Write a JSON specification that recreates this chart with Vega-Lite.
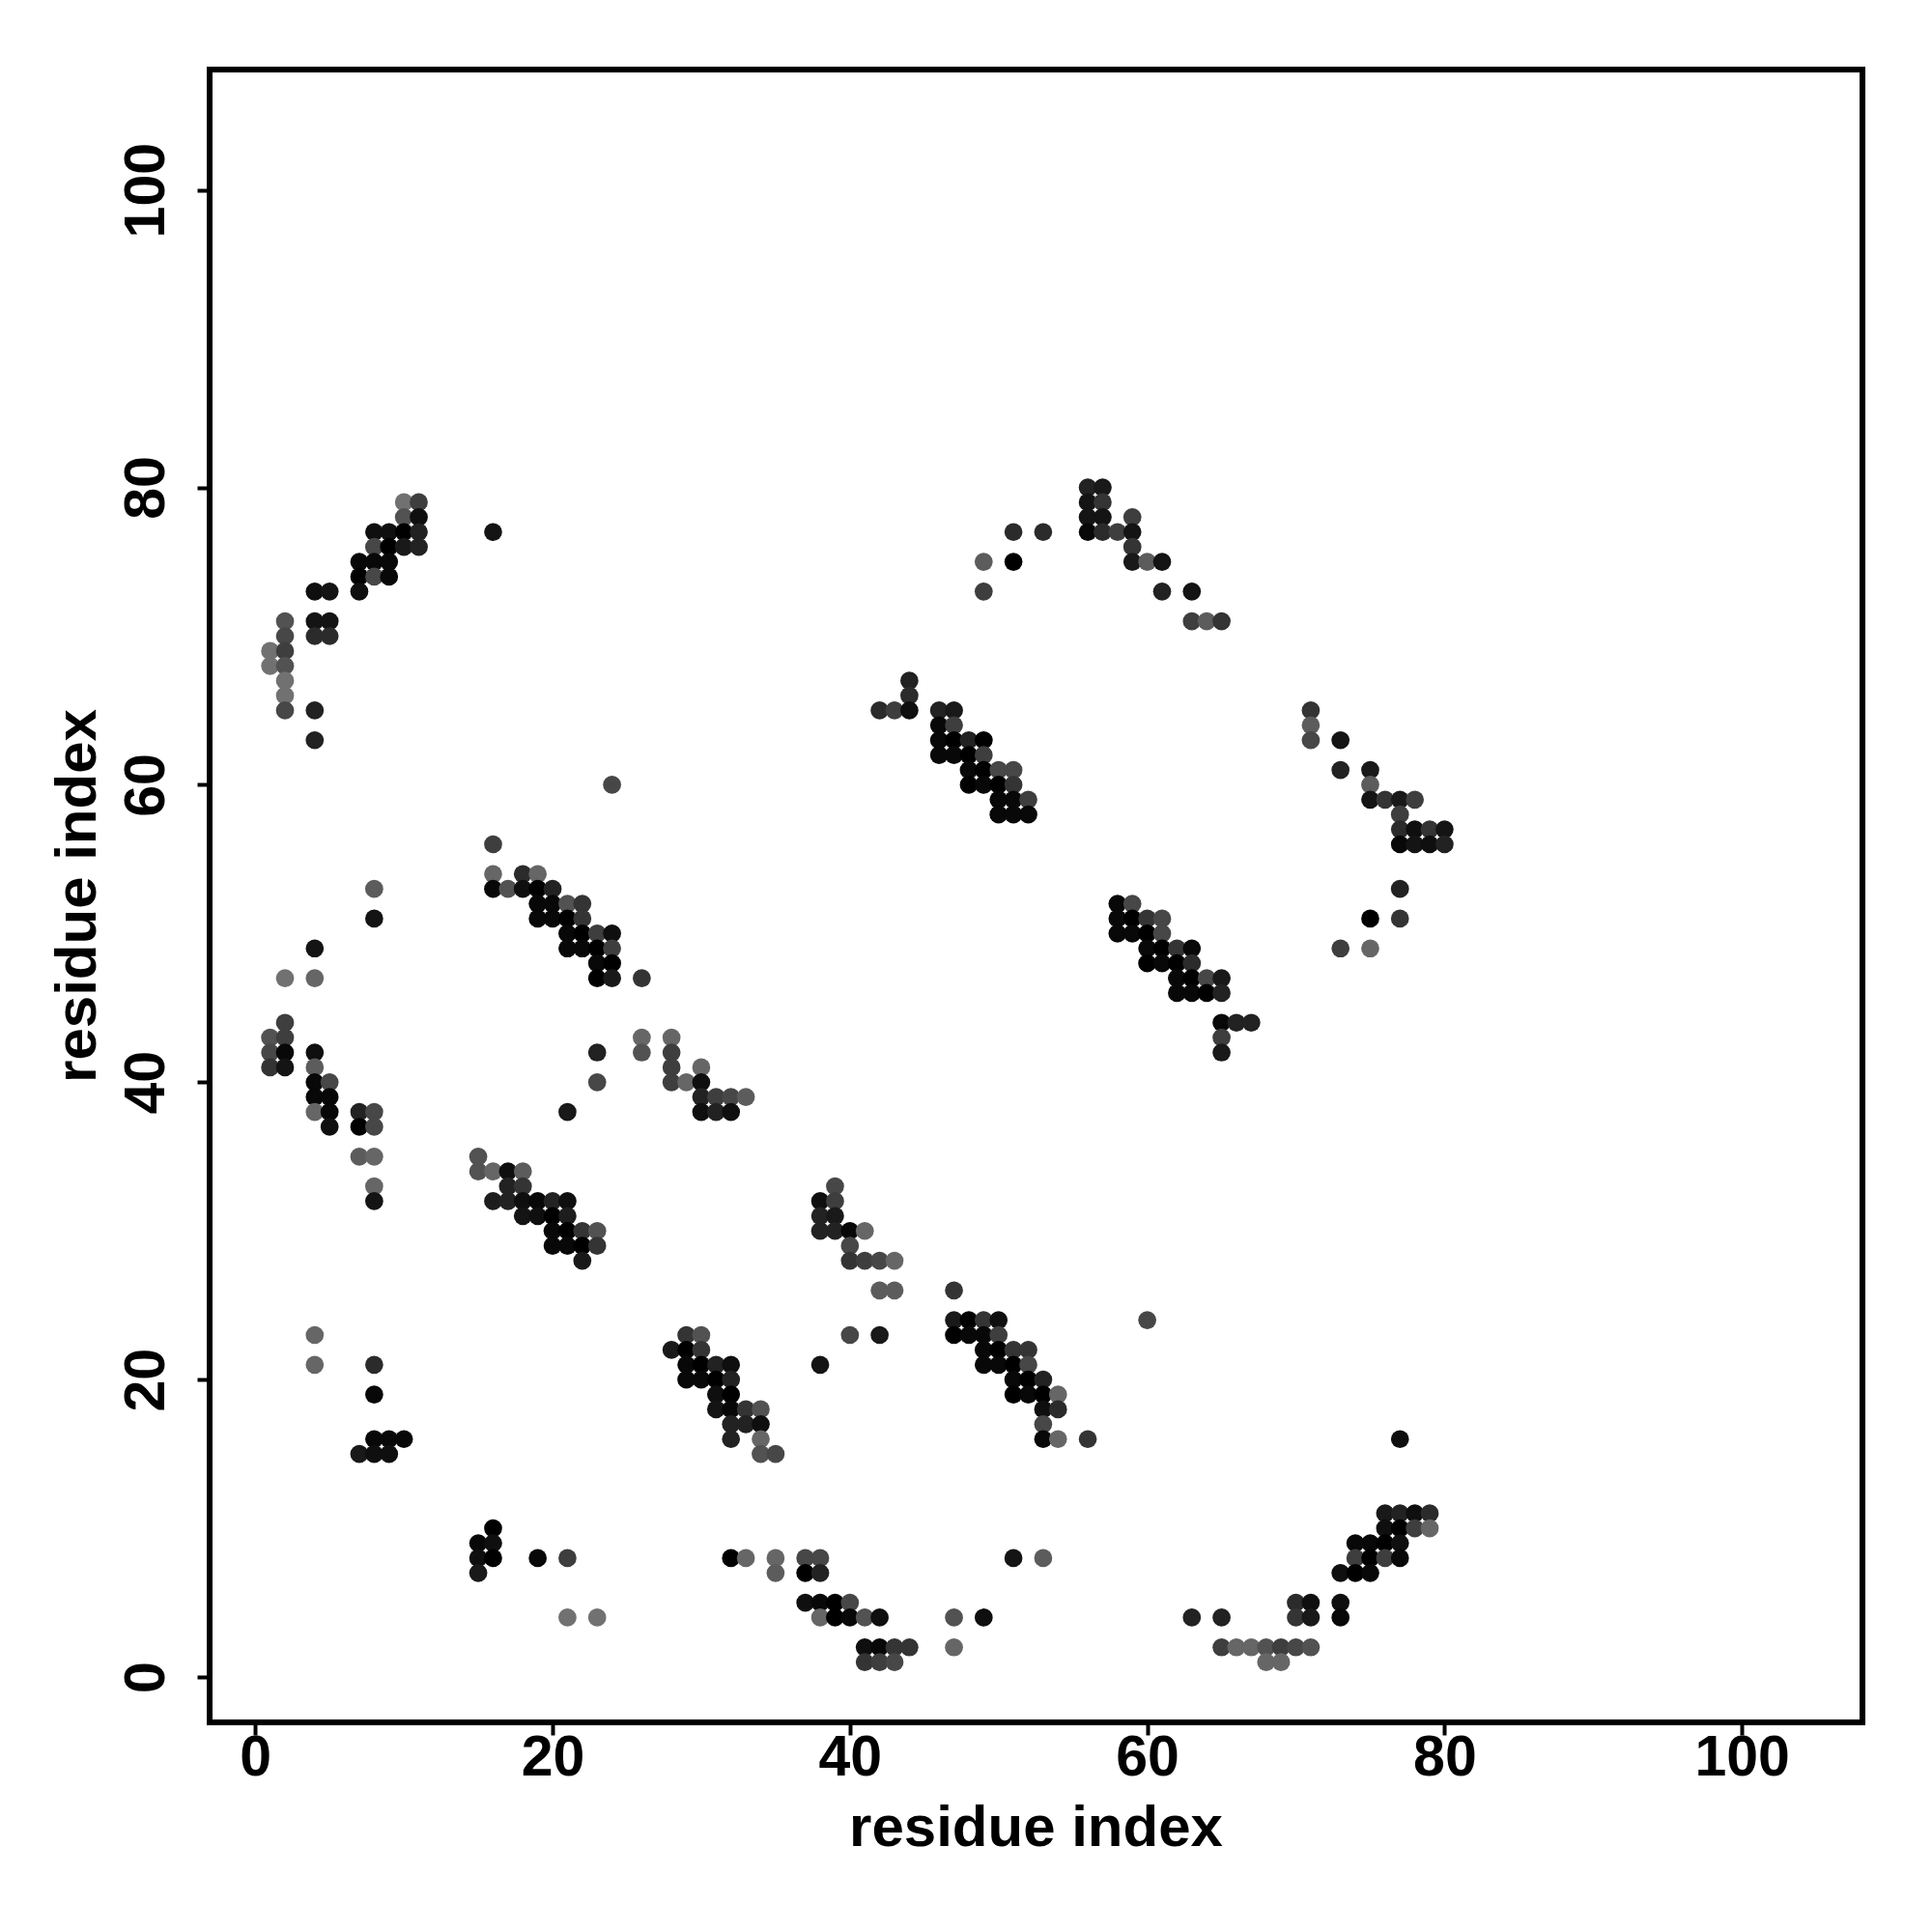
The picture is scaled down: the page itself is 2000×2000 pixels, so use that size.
{"$schema":"https://vega.github.io/schema/vega-lite/v6.json","autosize":{"type":"none"},"padding":{"left":217,"top":72,"right":72,"bottom":217},"width":1711,"height":1711,"background":"white","config":{"view":{"stroke":"#000000","strokeWidth":6}},"data":{"values":[
{"i":10,"j":79,"s":11},{"i":11,"j":79,"s":6},{"i":10,"j":78,"s":8},{"i":11,"j":78,"s":1},{"i":8,"j":77,"s":1},{"i":9,"j":77,"s":1},{"i":10,"j":77,"s":0},{"i":11,"j":77,"s":3},{"i":16,"j":77,"s":1.5},{"i":8,"j":76,"s":7},{"i":9,"j":76,"s":0},{"i":10,"j":76,"s":2},{"i":11,"j":76,"s":3},{"i":7,"j":75,"s":0.5},{"i":8,"j":75,"s":0.5},{"i":9,"j":75,"s":0.5},{"i":7,"j":74,"s":0},{"i":8,"j":74,"s":7},{"i":9,"j":74,"s":0.5},{"i":4,"j":73,"s":1},{"i":5,"j":73,"s":1.5},{"i":7,"j":73,"s":1},{"i":2,"j":71,"s":8},{"i":4,"j":71,"s":1.5},{"i":5,"j":71,"s":1.5},{"i":2,"j":70,"s":7},{"i":4,"j":70,"s":4},{"i":5,"j":70,"s":4},{"i":1,"j":69,"s":11},{"i":2,"j":69,"s":6},{"i":1,"j":68,"s":11},{"i":2,"j":68,"s":8},{"i":2,"j":67,"s":11},{"i":2,"j":66,"s":11},{"i":2,"j":65,"s":7},{"i":4,"j":65,"s":3},{"i":4,"j":63,"s":3},
{"i":8,"j":53,"s":9},{"i":8,"j":51,"s":1.5},{"i":4,"j":49,"s":1.5},{"i":2,"j":47,"s":11},{"i":4,"j":47,"s":10},{"i":2,"j":44,"s":6},{"i":1,"j":43,"s":8},{"i":2,"j":43,"s":6},{"i":1,"j":42,"s":7},{"i":2,"j":42,"s":0.5},{"i":1,"j":41,"s":5},{"i":2,"j":41,"s":1.5},{"i":4,"j":42,"s":1},{"i":4,"j":41,"s":9},{"i":4,"j":40,"s":0.5},{"i":5,"j":40,"s":7},{"i":4,"j":39,"s":0.5},{"i":5,"j":39,"s":0.5},{"i":4,"j":38,"s":10},{"i":5,"j":38,"s":0.5},{"i":5,"j":37,"s":1},{"i":7,"j":38,"s":3},{"i":8,"j":38,"s":7},{"i":7,"j":37,"s":0},{"i":8,"j":37,"s":7},{"i":7,"j":35,"s":9},{"i":8,"j":35,"s":10},{"i":8,"j":33,"s":10},{"i":8,"j":32,"s":1.5},
{"i":16,"j":56,"s":6},{"i":16,"j":54,"s":10},{"i":18,"j":54,"s":4},{"i":19,"j":54,"s":10},{"i":16,"j":53,"s":0.5},{"i":17,"j":53,"s":8},{"i":18,"j":53,"s":1},{"i":19,"j":53,"s":0},{"i":20,"j":53,"s":3},{"i":19,"j":52,"s":0.5},{"i":20,"j":52,"s":0.5},{"i":21,"j":52,"s":8},{"i":22,"j":52,"s":5},{"i":19,"j":51,"s":0.5},{"i":20,"j":51,"s":0.5},{"i":21,"j":51,"s":0},{"i":22,"j":51,"s":5},{"i":21,"j":50,"s":0.5},{"i":22,"j":50,"s":0},{"i":23,"j":50,"s":6},{"i":24,"j":50,"s":1},{"i":21,"j":49,"s":0.5},{"i":22,"j":49,"s":0.5},{"i":23,"j":49,"s":0},{"i":24,"j":49,"s":6},{"i":23,"j":48,"s":0.5},{"i":24,"j":48,"s":0},{"i":23,"j":47,"s":0},{"i":24,"j":47,"s":2},{"i":26,"j":47,"s":5},{"i":26,"j":43,"s":10},{"i":28,"j":43,"s":10},{"i":23,"j":42,"s":3},{"i":26,"j":42,"s":8},{"i":28,"j":42,"s":6},{"i":28,"j":41,"s":6},{"i":30,"j":41,"s":10},{"i":23,"j":40,"s":7},{"i":28,"j":40,"s":6},{"i":29,"j":40,"s":10},{"i":30,"j":40,"s":1},{"i":30,"j":39,"s":3},{"i":31,"j":39,"s":6},{"i":32,"j":39,"s":7},{"i":33,"j":39,"s":9},{"i":21,"j":38,"s":2},{"i":30,"j":38,"s":1},{"i":31,"j":38,"s":3},{"i":32,"j":38,"s":1},{"i":24,"j":60,"s":7},
{"i":15,"j":35,"s":8},{"i":15,"j":34,"s":8},{"i":16,"j":34,"s":10},{"i":17,"j":34,"s":1},{"i":18,"j":34,"s":9},{"i":17,"j":33,"s":3},{"i":18,"j":33,"s":5},{"i":16,"j":32,"s":2.5},{"i":17,"j":32,"s":3},{"i":18,"j":32,"s":1},{"i":19,"j":32,"s":0.5},{"i":20,"j":32,"s":3},{"i":21,"j":32,"s":1},{"i":18,"j":31,"s":1.5},{"i":19,"j":31,"s":1},{"i":20,"j":31,"s":0},{"i":21,"j":31,"s":2.5},{"i":20,"j":30,"s":0.5},{"i":21,"j":30,"s":0},{"i":22,"j":30,"s":5},{"i":23,"j":30,"s":8},{"i":20,"j":29,"s":0.5},{"i":21,"j":29,"s":0.5},{"i":22,"j":29,"s":0},{"i":23,"j":29,"s":5},{"i":22,"j":28,"s":2},
{"i":29,"j":23,"s":5},{"i":30,"j":23,"s":8},{"i":28,"j":22,"s":2},{"i":29,"j":22,"s":0},{"i":30,"j":22,"s":5},{"i":29,"j":21,"s":0.5},{"i":30,"j":21,"s":0},{"i":31,"j":21,"s":3},{"i":32,"j":21,"s":1},{"i":29,"j":20,"s":0.5},{"i":30,"j":20,"s":0.5},{"i":31,"j":20,"s":0},{"i":32,"j":20,"s":3},{"i":31,"j":19,"s":1},{"i":32,"j":19,"s":0},{"i":31,"j":18,"s":1.5},{"i":32,"j":18,"s":0.5},{"i":33,"j":18,"s":5},{"i":34,"j":18,"s":8},{"i":32,"j":17,"s":3},{"i":33,"j":17,"s":3},{"i":34,"j":17,"s":1},{"i":32,"j":16,"s":3},{"i":34,"j":16,"s":10},{"i":34,"j":15,"s":8},{"i":35,"j":15,"s":7},{"i":40,"j":23,"s":7},{"i":42,"j":23,"s":2},{"i":38,"j":21,"s":1.5},
{"i":47,"j":26,"s":5},{"i":47,"j":24,"s":2},{"i":48,"j":24,"s":0},{"i":49,"j":24,"s":5},{"i":50,"j":24,"s":1},{"i":47,"j":23,"s":0},{"i":48,"j":23,"s":0.5},{"i":49,"j":23,"s":0.5},{"i":50,"j":23,"s":6},{"i":49,"j":22,"s":0.5},{"i":50,"j":22,"s":0},{"i":51,"j":22,"s":5},{"i":52,"j":22,"s":5},{"i":49,"j":21,"s":0.5},{"i":50,"j":21,"s":0.5},{"i":51,"j":21,"s":0},{"i":52,"j":21,"s":7},{"i":51,"j":20,"s":0.5},{"i":52,"j":20,"s":0},{"i":53,"j":20,"s":3},{"i":51,"j":19,"s":0},{"i":52,"j":19,"s":0.5},{"i":53,"j":19,"s":0},{"i":54,"j":19,"s":10},{"i":53,"j":18,"s":1},{"i":54,"j":18,"s":4},{"i":53,"j":17,"s":7},{"i":53,"j":16,"s":0.5},{"i":54,"j":16,"s":10},{"i":56,"j":16,"s":5},{"i":60,"j":24,"s":7},
{"i":44,"j":67,"s":3},{"i":44,"j":66,"s":4},{"i":42,"j":65,"s":4},{"i":43,"j":65,"s":6},{"i":44,"j":65,"s":1},{"i":46,"j":65,"s":3},{"i":47,"j":65,"s":2},{"i":46,"j":64,"s":0.5},{"i":47,"j":64,"s":6},{"i":46,"j":63,"s":0.5},{"i":47,"j":63,"s":0},{"i":48,"j":63,"s":3},{"i":49,"j":63,"s":0},{"i":46,"j":62,"s":0.5},{"i":47,"j":62,"s":0.5},{"i":48,"j":62,"s":0},{"i":49,"j":62,"s":6},{"i":48,"j":61,"s":0.5},{"i":49,"j":61,"s":0},{"i":50,"j":61,"s":7},{"i":51,"j":61,"s":7},{"i":48,"j":60,"s":0},{"i":49,"j":60,"s":0.5},{"i":50,"j":60,"s":0},{"i":51,"j":60,"s":5},{"i":50,"j":59,"s":0.5},{"i":51,"j":59,"s":0.5},{"i":52,"j":59,"s":6},{"i":50,"j":58,"s":0.5},{"i":51,"j":58,"s":0.5},{"i":52,"j":58,"s":0.5},
{"i":58,"j":52,"s":0.5},{"i":59,"j":52,"s":7},{"i":58,"j":51,"s":0.5},{"i":59,"j":51,"s":0},{"i":60,"j":51,"s":5},{"i":61,"j":51,"s":7},{"i":58,"j":50,"s":0.5},{"i":59,"j":50,"s":0.5},{"i":60,"j":50,"s":0},{"i":61,"j":50,"s":7},{"i":60,"j":49,"s":0.5},{"i":61,"j":49,"s":0},{"i":62,"j":49,"s":5},{"i":63,"j":49,"s":0.5},{"i":60,"j":48,"s":0},{"i":61,"j":48,"s":0.5},{"i":62,"j":48,"s":0},{"i":63,"j":48,"s":4},{"i":62,"j":47,"s":0.5},{"i":63,"j":47,"s":0},{"i":64,"j":47,"s":7},{"i":65,"j":47,"s":2},{"i":62,"j":46,"s":0.5},{"i":63,"j":46,"s":0.5},{"i":64,"j":46,"s":0},{"i":65,"j":46,"s":3},{"i":65,"j":44,"s":0.5},{"i":66,"j":44,"s":3},{"i":67,"j":44,"s":3},{"i":65,"j":43,"s":6},{"i":65,"j":42,"s":2},
{"i":71,"j":65,"s":5},{"i":71,"j":64,"s":9},{"i":71,"j":63,"s":7},{"i":73,"j":63,"s":1.5},{"i":73,"j":61,"s":3},{"i":75,"j":61,"s":2},{"i":75,"j":60,"s":9},{"i":75,"j":59,"s":1.5},{"i":76,"j":59,"s":5},{"i":77,"j":59,"s":2},{"i":78,"j":59,"s":6},{"i":77,"j":58,"s":6},{"i":77,"j":57,"s":4},{"i":78,"j":57,"s":1},{"i":79,"j":57,"s":5},{"i":80,"j":57,"s":1.5},{"i":77,"j":56,"s":0.5},{"i":78,"j":56,"s":1.5},{"i":79,"j":56,"s":1},{"i":80,"j":56,"s":3},{"i":77,"j":53,"s":3},{"i":75,"j":51,"s":0},{"i":77,"j":51,"s":5},{"i":73,"j":49,"s":6},{"i":75,"j":49,"s":10},
{"i":16,"j":10,"s":0},{"i":15,"j":9,"s":0.5},{"i":16,"j":9,"s":1},{"i":15,"j":8,"s":1},{"i":16,"j":8,"s":0},{"i":19,"j":8,"s":0.5},{"i":21,"j":8,"s":6},{"i":32,"j":8,"s":0},{"i":33,"j":8,"s":10},{"i":35,"j":8,"s":10},{"i":37,"j":8,"s":7},{"i":38,"j":8,"s":7},{"i":15,"j":7,"s":2},{"i":35,"j":7,"s":9},{"i":37,"j":7,"s":0},{"i":38,"j":7,"s":3},{"i":37,"j":5,"s":1},{"i":38,"j":5,"s":0.5},{"i":39,"j":5,"s":0},{"i":40,"j":5,"s":7},{"i":21,"j":4,"s":11},{"i":23,"j":4,"s":11},{"i":38,"j":4,"s":10},{"i":39,"j":4,"s":0},{"i":40,"j":4,"s":0.5},{"i":41,"j":4,"s":8},{"i":42,"j":4,"s":1},{"i":41,"j":2,"s":1},{"i":42,"j":2,"s":0.5},{"i":43,"j":2,"s":5},{"i":44,"j":2,"s":5},{"i":41,"j":1,"s":5},{"i":42,"j":1,"s":6},{"i":43,"j":1,"s":7},{"i":47,"j":4,"s":8},{"i":47,"j":2,"s":10},{"i":49,"j":4,"s":1},
{"i":76,"j":11,"s":2},{"i":77,"j":11,"s":3},{"i":78,"j":11,"s":1},{"i":79,"j":11,"s":4},{"i":76,"j":10,"s":1},{"i":77,"j":10,"s":0},{"i":78,"j":10,"s":6},{"i":79,"j":10,"s":10},{"i":74,"j":9,"s":0.5},{"i":75,"j":9,"s":0.5},{"i":76,"j":9,"s":0},{"i":77,"j":9,"s":1},{"i":51,"j":8,"s":1.5},{"i":53,"j":8,"s":9},{"i":74,"j":8,"s":6},{"i":75,"j":8,"s":0},{"i":76,"j":8,"s":6},{"i":77,"j":8,"s":0.5},{"i":73,"j":7,"s":1},{"i":74,"j":7,"s":0},{"i":75,"j":7,"s":0.5},{"i":70,"j":5,"s":4},{"i":71,"j":5,"s":1},{"i":73,"j":5,"s":1},{"i":63,"j":4,"s":3},{"i":65,"j":4,"s":3},{"i":70,"j":4,"s":5},{"i":71,"j":4,"s":2},{"i":73,"j":4,"s":0.5},{"i":65,"j":2,"s":6},{"i":66,"j":2,"s":10},{"i":67,"j":2,"s":10},{"i":68,"j":2,"s":8},{"i":69,"j":2,"s":6},{"i":70,"j":2,"s":7},{"i":71,"j":2,"s":8},{"i":68,"j":1,"s":10},{"i":69,"j":1,"s":10},
{"i":56,"j":80,"s":3},{"i":57,"j":80,"s":2},{"i":56,"j":79,"s":1.5},{"i":57,"j":79,"s":5},{"i":56,"j":78,"s":1.5},{"i":57,"j":78,"s":1.5},{"i":59,"j":78,"s":6},{"i":51,"j":77,"s":4},{"i":53,"j":77,"s":4},{"i":56,"j":77,"s":0.5},{"i":57,"j":77,"s":4},{"i":58,"j":77,"s":6},{"i":59,"j":77,"s":1.5},{"i":59,"j":76,"s":5},{"i":49,"j":75,"s":9},{"i":51,"j":75,"s":0},{"i":59,"j":75,"s":2},{"i":60,"j":75,"s":9},{"i":61,"j":75,"s":1.5},{"i":49,"j":73,"s":6},{"i":61,"j":73,"s":3},{"i":63,"j":73,"s":1.5},{"i":63,"j":71,"s":6},{"i":64,"j":71,"s":9},{"i":65,"j":71,"s":5},
{"i":77,"j":16,"s":1},{"i":4,"j":23,"s":10},{"i":4,"j":21,"s":10},{"i":8,"j":21,"s":4},{"i":8,"j":19,"s":0.5},{"i":8,"j":16,"s":0.5},{"i":9,"j":16,"s":0.5},{"i":10,"j":16,"s":0.5},{"i":7,"j":15,"s":2},{"i":8,"j":15,"s":1},{"i":9,"j":15,"s":1},
{"i":39,"j":33,"s":7},{"i":38,"j":32,"s":1},{"i":39,"j":32,"s":6},{"i":38,"j":31,"s":3},{"i":39,"j":31,"s":2},{"i":38,"j":30,"s":3},{"i":39,"j":30,"s":3},{"i":40,"j":30,"s":0.5},{"i":41,"j":30,"s":10},{"i":40,"j":29,"s":7},{"i":40,"j":28,"s":5},{"i":41,"j":28,"s":6},{"i":42,"j":28,"s":7},{"i":43,"j":28,"s":10},{"i":42,"j":26,"s":9},{"i":43,"j":26,"s":9}
]},"mark":{"type":"point","filled":true,"opacity":1,"size":350},"encoding":{"x":{"field":"i","type":"quantitative","scale":{"domain":[-3.07,108.11],"nice":false,"zero":false},"axis":{"values":[0,20,40,60,80,100],"grid":false,"domain":false,"tickColor":"#000000","tickWidth":4,"tickSize":13,"labelFont":"Liberation Sans","labelFontWeight":"bold","labelFontSize":59,"labelColor":"#000000","labelBaseline":"alphabetic","labelPadding":41,"labelFlush":false,"labelOverlap":false,"title":"residue index","titleFont":"Liberation Sans","titleFontWeight":"bold","titleFontSize":60,"titleColor":"#000000","titleBaseline":"alphabetic","titleAnchor":"middle","titleX":855,"titleY":127}},"y":{"field":"j","type":"quantitative","scale":{"domain":[-3.05,108.1],"nice":false,"zero":false},"axis":{"values":[0,20,40,60,80,100],"grid":false,"domain":false,"tickColor":"#000000","tickWidth":4,"tickSize":13,"labelFont":"Liberation Sans","labelFontWeight":"bold","labelFontSize":59,"labelColor":"#000000","labelAngle":-90,"labelAlign":"center","labelBaseline":"alphabetic","labelPadding":35,"labelFlush":false,"labelOverlap":false,"title":"residue index","titleFont":"Liberation Sans","titleFontWeight":"bold","titleFontSize":60,"titleColor":"#000000","titleAngle":-90,"titleBaseline":"alphabetic","titleAnchor":"middle","titleX":-119,"titleY":855}},"color":{"field":"s","type":"quantitative","legend":null,"scale":{"type":"linear","domain":[0,12],"range":["#000000","#7c7c7c"]}}}}
